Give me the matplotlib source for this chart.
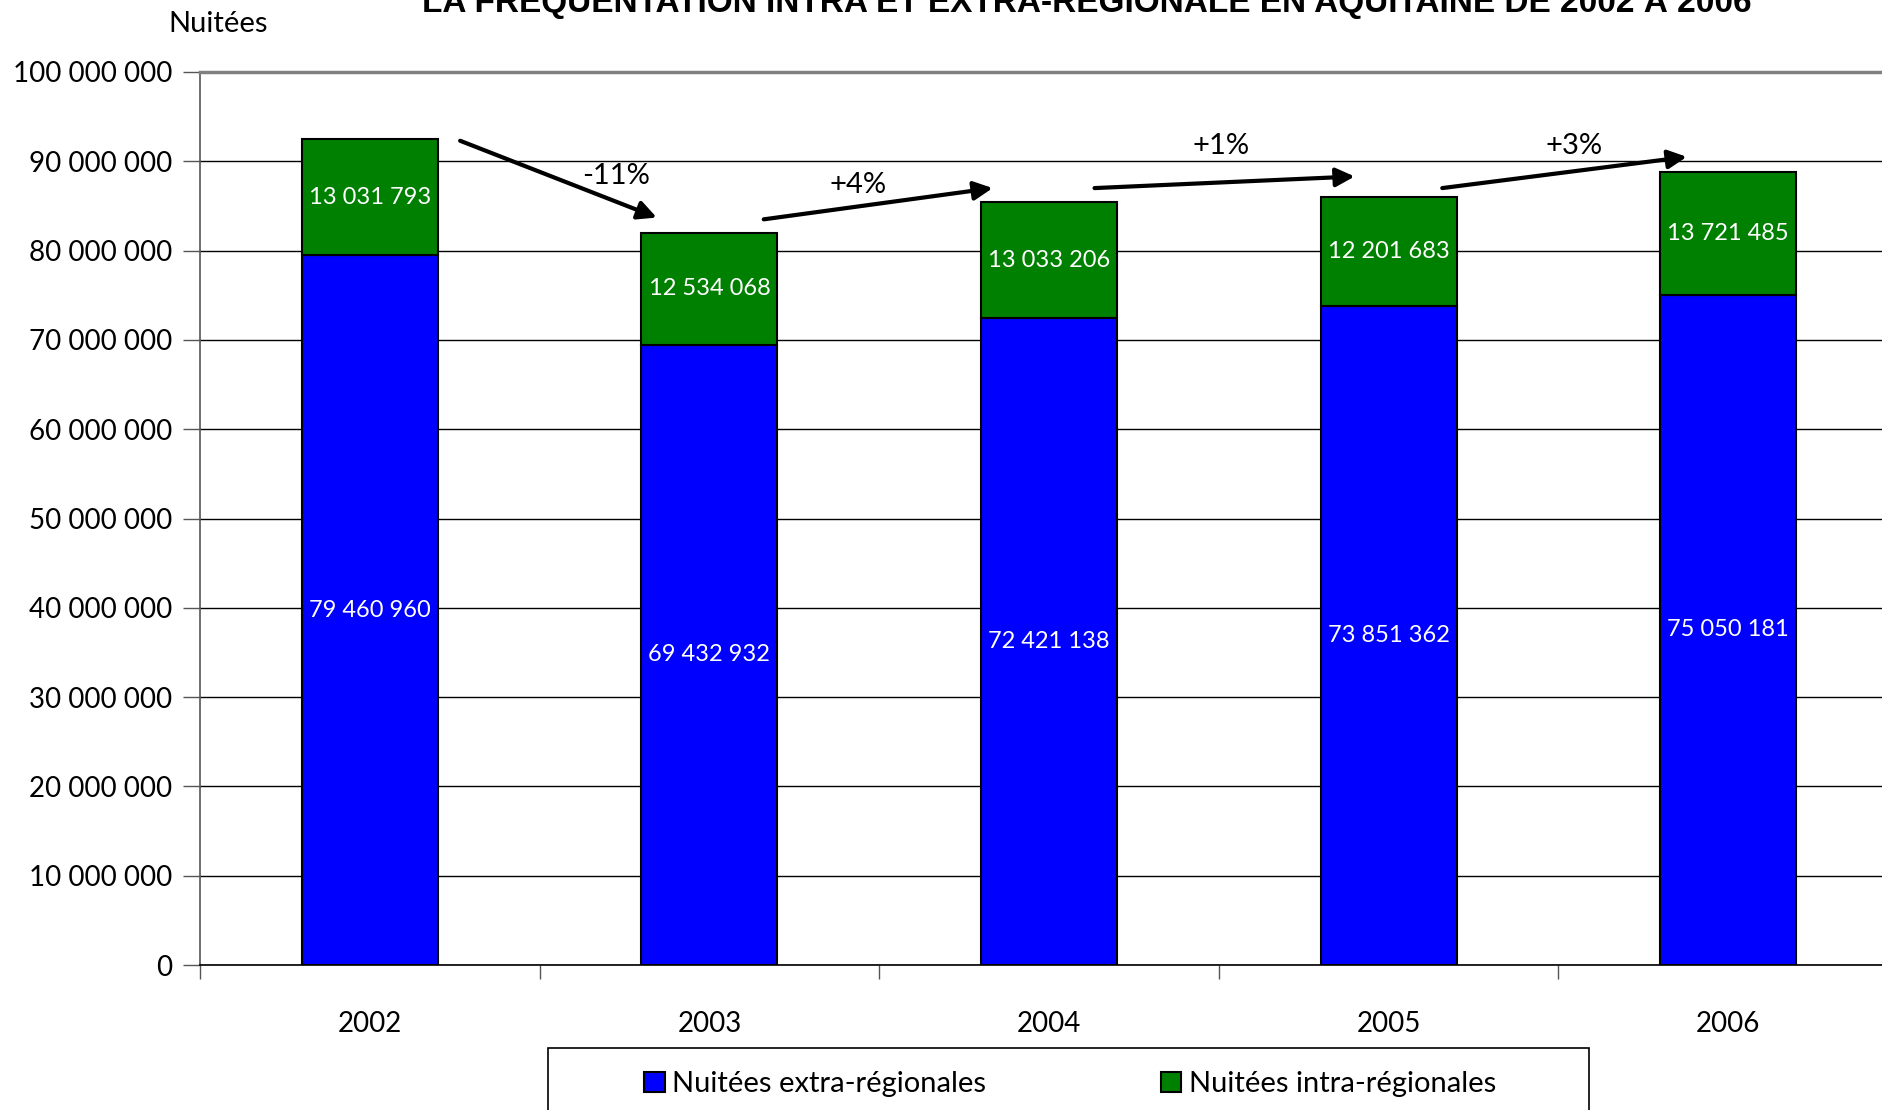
import matplotlib
matplotlib.use("Agg")
import matplotlib.pyplot as plt
from matplotlib.patches import Rectangle
import numpy as np

plt.rcParams.update({
    "font.family": ["Lato", "DejaVu Sans"],
    "font.size": 20,
})

years = ["2002", "2003", "2004", "2005", "2006"]
extra = [79460960, 69432932, 72421138, 73851362, 75050181]
intra = [13031793, 12534068, 13033206, 12201683, 13721485]

# variation arrows between years: label, start (x, y), end (x, y), label position
var_labels = ["-11%", "+4%", "+1%", "+3%"]
var_start = [(0.266, 92.3e6), (1.16, 83.5e6), (2.134, 87.0e6), (3.158, 87.0e6)]
var_end = [(0.845, 83.7e6), (1.834, 87.0e6), (2.90, 88.3e6), (3.878, 90.5e6)]
var_text = [(0.725, 88.4e6), (1.439, 87.4e6), (2.508, 91.7e6), (3.547, 91.7e6)]

BLUE = "#0000ff"
GREEN = "#008000"


def fmt(v):
    return f"{v:,}".replace(",", " ")


W, H = 1883, 1110
fig = plt.figure(figsize=(W / 100, H / 100), dpi=100, facecolor="white")
left, bottom, top = 200 / W, (H - 965) / H, (H - 72) / H
cat_w = 339.6 / W
ax = fig.add_axes([left, bottom, cat_w * 5, top - bottom])

x = np.arange(len(years))
ax.bar(x, extra, width=0.4, color=BLUE, edgecolor="black", linewidth=1.5, zorder=3,
       label="Nuitées extra-régionales")
ax.bar(x, intra, width=0.4, bottom=extra, color=GREEN, edgecolor="black", linewidth=1.5,
       zorder=3, label="Nuitées intra-régionales")

for xi, e, i in zip(x, extra, intra):
    ax.text(xi, e / 2, fmt(e), ha="center", va="center", color="white", fontsize=17, zorder=4)
    ax.text(xi, e + i / 2, fmt(i), ha="center", va="center", color="white", fontsize=17, zorder=4)

for lab, s, e, t in zip(var_labels, var_start, var_end, var_text):
    ax.annotate("", xy=e, xytext=s,
                arrowprops=dict(arrowstyle="-|>", lw=3, color="black", mutation_scale=28,
                                shrinkA=0, shrinkB=0), zorder=5)
    ax.text(t[0], t[1], lab, ha="center", va="center", fontsize=21, zorder=5)

ax.set_xlim(-0.5, 4.5)
ax.set_ylim(0, 100e6)
ax.set_yticks(np.arange(0, 100e6 + 1, 10e6))
ax.set_yticklabels([fmt(int(v)) for v in np.arange(0, 100e6 + 1, 10e6)])
ax.yaxis.grid(True, color="black", linewidth=1)
ax.set_axisbelow(True)

ax.set_xticks(x)
ax.set_xticklabels(years)
ax.set_xticks(np.arange(-0.5, 5, 1), minor=True)
ax.tick_params(axis="x", which="major", length=0, pad=33)
ax.tick_params(axis="x", which="minor", length=10, width=1, color="#555555")
ax.tick_params(axis="y", length=12, width=1, color="#555555", pad=8)

ax.spines["top"].set_color("#808080")
ax.spines["top"].set_linewidth(2.5)
ax.spines["right"].set_visible(False)
ax.spines["left"].set_color("#555555")
ax.spines["left"].set_linewidth(1.2)
ax.spines["bottom"].set_color("black")
ax.spines["bottom"].set_linewidth(1.2)

fig.text(218 / W, 1 - 24 / H, "Nuitées", ha="center", va="center", fontsize=21)
fig.text(1087 / W, 1 - 1 / H, "LA FRÉQUENTATION INTRA ET EXTRA-RÉGIONALE EN AQUITAINE DE 2002 À 2006",
         ha="center", va="center", fontsize=24, fontweight="bold", family="Liberation Sans")

# legend box
fig.patches.append(Rectangle((548 / W, -0.01), (1589 - 548) / W, (1110 - 1048) / H + 0.01,
                             transform=fig.transFigure, facecolor="white", edgecolor="black",
                             linewidth=1.2))
handles, labels = ax.get_legend_handles_labels()
fig.legend(handles, labels, loc="center", bbox_to_anchor=(1070 / W, 1 - 1084 / H), ncol=2,
           frameon=False, fontsize=21, handlelength=0.7, handleheight=0.7,
           handletextpad=0.25, columnspacing=6.0)

fig.savefig("out.png", dpi=100, facecolor="white")
